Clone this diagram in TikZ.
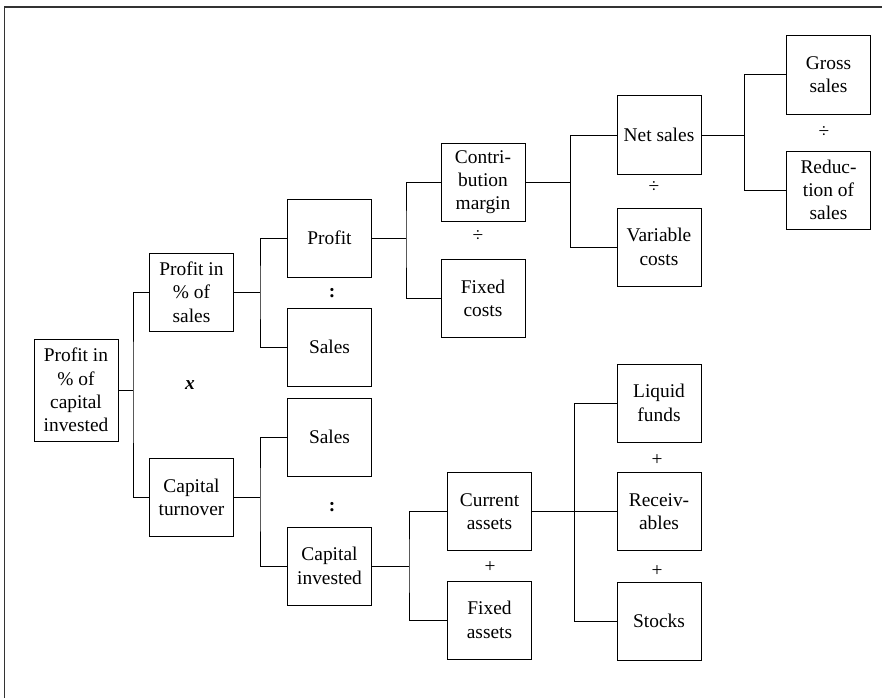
\documentclass[tikz,border=0pt]{standalone}
\usepackage{fontspec}
\setmainfont{Liberation Serif}
\tikzset{
  box/.style={draw, line width=1pt, minimum width=84pt, minimum height=78pt, inner sep=1pt,
    align=center, font=\fontsize{19.4}{23.3}\selectfont},
  opsign/.style={font=\fontsize{19.4}{23.3}\selectfont}
}
\begin{document}
\begin{tikzpicture}[x=1pt, y=-1pt, line width=1pt]
\useasboundingbox (0,0) rectangle (882,698);
\draw[line width=1.4pt, black!80] (4.5,698)--(4.5,7)--(882,7);
% boxes
\node[box, minimum height=102pt] (root) at (76,390) {Profit in\\\% of\\capital\\invested};
\node[box] (pis) at (191.5,292) {Profit in\\\% of\\sales};
\node[box] (cto) at (191.5,497.5) {Capital\\turnover};
\node[box] (prof) at (329.5,238) {Profit};
\node[box] (salA) at (329.5,347) {Sales};
\node[box] (salB) at (329.5,437) {Sales};
\node[box] (cinv) at (329.5,566) {Capital\\invested};
\node[box] (cm) at (483,182) {Contri-\\bution\\margin};
\node[box] (fc) at (483,298.5) {Fixed\\costs};
\node[box] (ca) at (489.5,511.5) {Current\\assets};
\node[box] (fa) at (489.5,620) {Fixed\\assets};
\node[box] (ns) at (659,135) {Net sales};
\node[box] (vc) at (659,247) {Variable\\costs};
\node[box] (lf) at (659,403) {Liquid\\funds};
\node[box] (rec) at (659,511.5) {Receiv-\\ables};
\node[box] (sto) at (659,621) {Stocks};
\node[box] (gs) at (828.5,75) {Gross\\sales};
\node[box] (rs) at (828.5,190) {Reduc-\\tion of\\sales};
% buses
\coordinate (b1) at (133,390);
\coordinate (b2) at (260,292);
\coordinate (b3) at (260,497.5);
\coordinate (b4) at (406,238);
\coordinate (b5) at (409,566);
\coordinate (b6) at (570.5,182);
\coordinate (b7) at (574,511.5);
\coordinate (b8) at (744,135);
\foreach \from/\bus/\up/\down in {root/b1/pis/cto, pis/b2/prof/salA, cto/b3/salB/cinv,
  prof/b4/cm/fc, cinv/b5/ca/fa, cm/b6/ns/vc, ca/b7/lf/sto, ns/b8/gs/rs}
{
	\draw (\from.east)--(\bus);
	\draw (\up.west) -| (\bus) |- (\down.west);
}
\draw (rec.west)--(b7);
% operators
\node[opsign] (opx) at (190,385) {\textbf{\textit{x}}};
\node[opsign] (opa) at (332,293) {\textbf{:}};
\node[opsign] (opb) at (332,507) {\textbf{:}};
\foreach \nm/\xx/\yy/\op in {opc/478/236/÷, opd/654/187/÷, ope/824/132/÷,
  opf/490/567/+, opg/657/460/+, oph/657/571/+}
	\node[opsign] (\nm) at (\xx,\yy) {\op};
\end{tikzpicture}
\end{document}
